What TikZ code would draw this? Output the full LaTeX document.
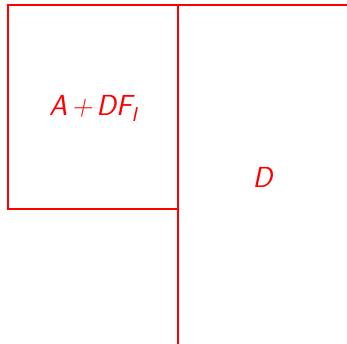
\documentclass[tikz,border=0pt]{standalone}
\begin{document}
\begin{tikzpicture}[x=1pt,y=1pt,
  redline/.style={draw=red,line width=2pt},
  lbl/.style={text=red,font=\fontsize{29}{34}\selectfont\sffamily\itshape,inner sep=0pt}]
\useasboundingbox (0,0) rectangle (347,344);
\node[redline,rectangle,minimum width=170pt,minimum height=204pt,inner sep=0pt,outer sep=0pt,anchor=north west] (box) at (8,338.5) {};
\node[lbl] (ab) at ([yshift=-1pt]box.center) {A\hspace{4pt}+\hspace{4pt}DF\raisebox{-6pt}{\fontsize{20}{24}\selectfont I}};
\coordinate (tr) at (347,338.5);
\coordinate (bt) at (178,0);
\draw[redline] (box.north east) -- (tr);
\draw[redline] (box.south east) -- (box.south east |- bt);
\node[lbl] (d) at (262.5,167) {D};
\end{tikzpicture}
\end{document}
